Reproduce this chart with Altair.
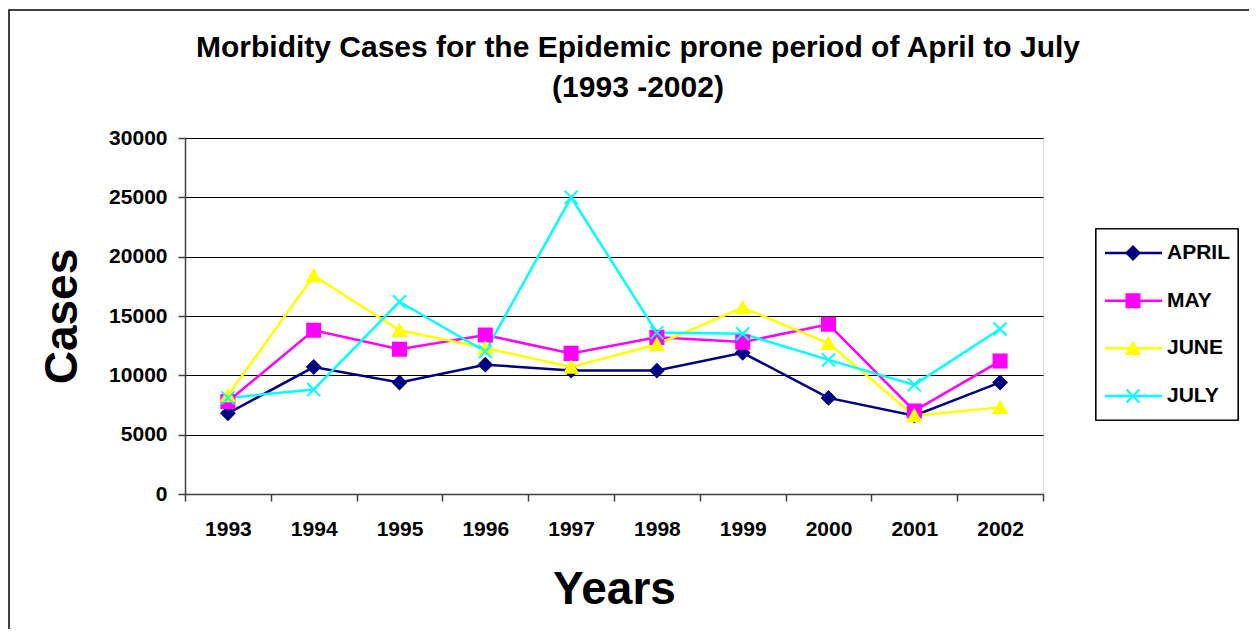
import altair as alt
import pandas as pd

years = ["1993", "1994", "1995", "1996", "1997", "1998", "1999", "2000", "2001", "2002"]
series = ["APRIL", "MAY", "JUNE", "JULY"]
april = [6800, 10700, 9400, 10900, 10400, 10400, 11900, 8100, 6600, 9400]
may = [7800, 13800, 12200, 13400, 11850, 13200, 12800, 14300, 7000, 11200]
june = [8300, 18400, 13800, 12300, 10700, 12600, 15700, 12700, 6600, 7300]
july = [8100, 8800, 16200, 12000, 25000, 13600, 13500, 11300, 9200, 13900]
colors = ["#000080", "#FF00FF", "#FFFF00", "#00FFFF"]
shapes = ["diamond", "square", "triangle-up", "M-1,-1L1,1M-1,1L1,-1"]
y_ticks = [0, 5000, 10000, 15000, 20000, 25000, 30000]
title_lines = ["Morbidity Cases for the Epidemic prone period of April to July", "(1993 -2002)"]

rows = []
for name, vals in zip(series, [april, may, june, july]):
    for yr, v in zip(years, vals):
        rows.append({"Year": yr, "Cases": v, "series": name})
df = pd.DataFrame(rows)
leg_df = pd.DataFrame({"series": series})
one = pd.DataFrame({"t": [title_lines[0]], "t2": [title_lines[1]]})

FONT = "Liberation Sans"

color_scale = alt.Scale(domain=series, range=colors)
shape_scale = alt.Scale(domain=series, range=shapes)

X = alt.X(
    "Year:O",
    sort=years,
    scale=alt.Scale(type="band", paddingInner=0, paddingOuter=0),
    bandPosition=0.5,
    axis=alt.Axis(
        title="Years", tickBand="extent", labelAngle=0, grid=False,
        labelFont=FONT, labelFontSize=21, labelFontWeight="bold", labelColor="black",
        labelPadding=17, tickSize=7, tickColor="#404040", tickWidth=1.5,
        domainColor="#404040", domainWidth=1.5,
        titleFont=FONT, titleFontSize=46, titleFontWeight="bold", titleColor="black",
        titlePadding=28,
    ),
)
Y = alt.Y(
    "Cases:Q",
    scale=alt.Scale(domain=[0, 30000], nice=False),
    axis=alt.Axis(
        title="Cases", values=y_ticks, format="d",
        labelFont=FONT, labelFontSize=21, labelFontWeight="bold", labelColor="black",
        labelPadding=11, tickSize=7, tickColor="#404040", tickWidth=1.5,
        domainColor="#404040", domainWidth=1.5,
        grid=True, gridColor="black", gridWidth=1,
        titleFont=FONT, titleFontSize=46, titleFontWeight="bold", titleColor="black",
        titlePadding=22,
    ),
)

base = alt.Chart(df)
lines = base.mark_line(strokeWidth=2.5).encode(
    x=X, y=Y,
    color=alt.Color("series:N", scale=color_scale, legend=None),
    detail="series:N",
)
points = base.mark_point(filled=True, size=170, strokeWidth=2, opacity=1).encode(
    x=X, y=Y,
    color=alt.Color("series:N", scale=color_scale, legend=None),
    stroke=alt.Stroke("series:N", scale=color_scale, legend=None),
    shape=alt.Shape("series:N", scale=shape_scale, legend=None),
)
main = alt.layer(lines, points)

leg_y = alt.Y("series:N", sort=series,
              scale=alt.Scale(type="point", domain=series, range=[115, 258], padding=0),
              axis=None)
leg_base = alt.Chart(leg_df)
leg_box = leg_base.mark_rect(fill="white", stroke="black", strokeWidth=1.2).encode(
    x=alt.value(911), x2=alt.value(1053), y=alt.value(91), y2=alt.value(282)
)
leg_rule = leg_base.mark_rule(strokeWidth=2.5).encode(
    x=alt.value(920), x2=alt.value(977), y=leg_y,
    color=alt.Color("series:N", scale=color_scale, legend=None),
)
leg_pt = leg_base.mark_point(filled=True, size=170, strokeWidth=2, opacity=1).encode(
    x=alt.value(948), y=leg_y,
    color=alt.Color("series:N", scale=color_scale, legend=None),
    stroke=alt.Stroke("series:N", scale=color_scale, legend=None),
    shape=alt.Shape("series:N", scale=shape_scale, legend=None),
)
leg_txt = leg_base.mark_text(align="left", baseline="middle", font=FONT, fontSize=21,
                             fontWeight="bold", color="black").encode(
    x=alt.value(982), y=leg_y, text="series:N"
)
legend = alt.layer(leg_rule, leg_pt, leg_txt)

frame = alt.Chart(one).mark_rect(fill=None, stroke="black", strokeWidth=1.5).encode(
    x=alt.value(-176), x2=alt.value(1200), y=alt.value(-128), y2=alt.value(700)
)
t1 = alt.Chart(one).mark_text(align="center", baseline="alphabetic", font=FONT, fontSize=30,
                              fontWeight="bold", color="black").encode(
    x=alt.value(453), y=alt.value(-81), text="t:N"
)
t2 = alt.Chart(one).mark_text(align="center", baseline="alphabetic", font=FONT, fontSize=30,
                              fontWeight="bold", color="black").encode(
    x=alt.value(453), y=alt.value(-41), text="t2:N"
)

chart = alt.layer(frame, t1, t2, main, leg_box, legend).resolve_scale(
    y="independent"
).properties(
    width=858,
    height=356,
    autosize=alt.AutoSizeParams(type="none"),
    padding={"left": 177, "top": 130, "right": 206, "bottom": 135},
).configure_view(stroke="#888888", strokeWidth=2).configure(background="white")

chart.save("out.html", embed_options={"renderer": "svg", "actions": False})
